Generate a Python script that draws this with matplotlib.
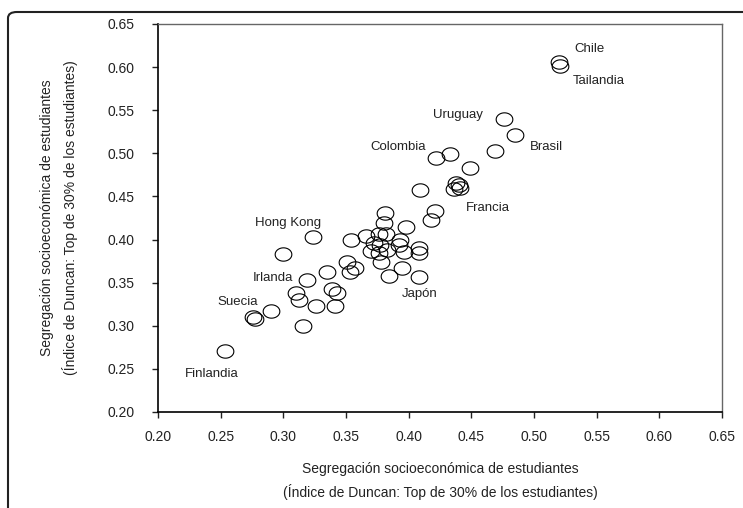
import numpy as np
import matplotlib
matplotlib.use("Agg")
import matplotlib.pyplot as plt
from matplotlib.path import Path
from matplotlib.patches import FancyBboxPatch

plt.rcParams['font.family'] = ['Liberation Sans', 'DejaVu Sans']

# DATA

seg_x = [0.520, 0.521, 0.476, 0.485, 0.469, 0.422, 0.433, 0.449, 0.409, 0.436,
         0.440, 0.441, 0.438, 0.421, 0.418, 0.398, 0.381, 0.380, 0.366, 0.354,
         0.376, 0.382, 0.372, 0.377, 0.370, 0.3825, 0.376, 0.378, 0.393, 0.392,
         0.396, 0.4085, 0.4085, 0.3945, 0.3845, 0.408, 0.351, 0.357, 0.353, 0.335,
         0.3385, 0.343, 0.341, 0.326, 0.3187, 0.310, 0.3125, 0.3155, 0.290, 0.2756,
         0.2774, 0.2535, 0.2995, 0.324]
seg_y = [0.606, 0.601, 0.540, 0.521, 0.503, 0.494, 0.499, 0.483, 0.457, 0.459,
         0.463, 0.460, 0.466, 0.433, 0.423, 0.415, 0.431, 0.419, 0.404, 0.400,
         0.406, 0.407, 0.396, 0.394, 0.387, 0.388, 0.384, 0.374, 0.400, 0.394,
         0.386, 0.390, 0.384, 0.367, 0.358, 0.356, 0.374, 0.367, 0.362, 0.362,
         0.343, 0.338, 0.323, 0.323, 0.353, 0.338, 0.330, 0.300, 0.3175, 0.3105,
         0.3075, 0.2707, 0.383, 0.4026]

label_names = ["Chile", "Tailandia", "Uruguay", "Brasil", "Colombia", "Francia",
               "Hong Kong", "Irlanda", "Suecia", "Finlandia", "Japón"]
label_x = [0.544, 0.552, 0.439, 0.510, 0.3915, 0.4634, 0.3037, 0.2918, 0.2638, 0.2429, 0.4085]
label_y = [0.621, 0.584, 0.5445, 0.507, 0.507, 0.4366, 0.419, 0.3554, 0.3276, 0.2437, 0.3369]

ticks = [0.20, 0.25, 0.30, 0.35, 0.40, 0.45, 0.50, 0.55, 0.60, 0.65]

axis_title = "Segregación socioeconómica de estudiantes\n(Índice de Duncan: Top de 30% de los estudiantes)"

# ellipse marker (wider than tall)
t = np.linspace(0, 2 * np.pi, 60)
ellipse = Path(np.column_stack([np.cos(t), 0.8 * np.sin(t)]), closed=True)

fig = plt.figure(figsize=(7.43, 5.08), dpi=100)
ax = fig.add_axes([0.2127, 0.189, 0.759, 0.7638])

ax.plot(seg_x, seg_y, linestyle="none", marker=ellipse, markersize=12,
        markerfacecolor="none", markeredgecolor="black", markeredgewidth=0.8)

for name, lx, ly in zip(label_names, label_x, label_y):
    ax.text(lx, ly, name, ha="center", va="center", fontsize=9.5, color="#222222")

ax.set_xlim(0.20, 0.65)
ax.set_ylim(0.20, 0.65)
ax.set_xticks(ticks)
ax.set_yticks(ticks)
ax.set_xticklabels([f"{v:.2f}" for v in ticks])
ax.set_yticklabels([f"{v:.2f}" for v in ticks])
ax.tick_params(direction="out", length=4, width=1, labelsize=10, colors="#222222")
ax.tick_params(axis="x", pad=9)
ax.tick_params(axis="y", pad=13)

for side in ["left", "bottom"]:
    ax.spines[side].set_color("black")
    ax.spines[side].set_linewidth(1.2)
for side in ["top", "right"]:
    ax.spines[side].set_color("#666666")
    ax.spines[side].set_linewidth(1.0)

ax.set_xlabel(axis_title, fontsize=10, linespacing=1.6, labelpad=13, color="#222222")
ax.set_ylabel(axis_title, fontsize=10, linespacing=1.6, labelpad=21, color="#222222")

# rounded outer frame, running off the right and bottom edges
frame = FancyBboxPatch((8 / 743, -0.2), 1.2, (508 - 12) / 508 + 0.2,
                       boxstyle="round,pad=0,rounding_size=0.012",
                       transform=fig.transFigure, fill=False,
                       edgecolor="#222222", linewidth=1.5)
fig.patches.append(frame)

fig.savefig("out.png", dpi=100)
